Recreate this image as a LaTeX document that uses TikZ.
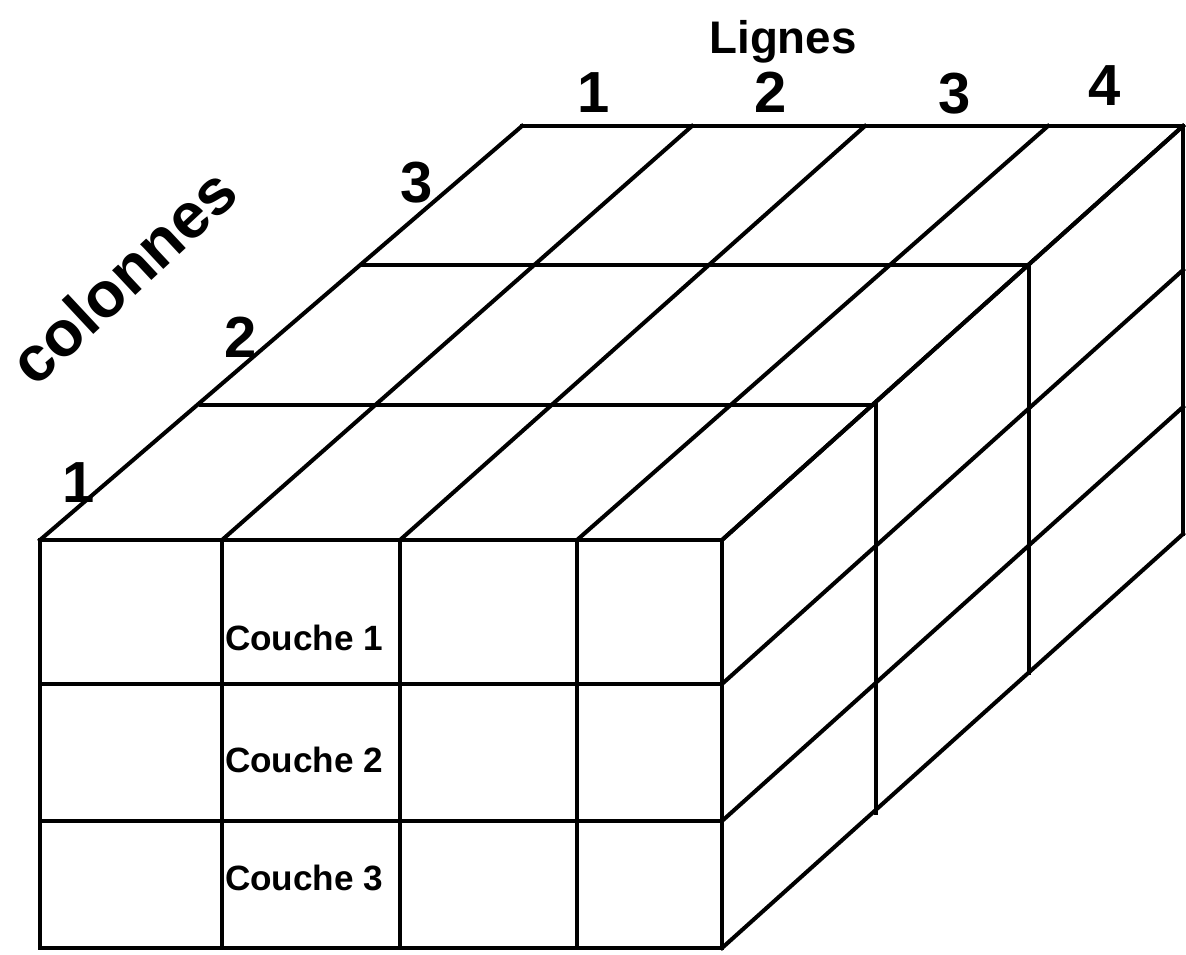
\documentclass[tikz,border=0pt]{standalone}
\usepackage{fontspec}
\setmainfont{Liberation Sans}
\begin{document}
\begin{tikzpicture}[x=0.02cm, y=-0.02cm,
  grid/.style={line width=2.3pt, line cap=rect, line join=miter},
  lbl/.style={inner sep=0pt, outer sep=0pt},
  digit/.style={lbl, anchor=base, font=\bfseries\fontsize{33}{33}\selectfont},
  layer/.style={lbl, anchor=base west, font=\bfseries\fontsize{20}{20}\selectfont}]

\useasboundingbox (0,0) rectangle (1186,954);

% grid point (i,j,k): i along the rows, j in depth (columns), k down the layers
\def\Fx{{40,222,400,577,722}}
\def\Bx{{522,692,865,1048,1183}}
\def\Ty{{540,405,265,126}}
\def\Hy{{0,144,281,408}}
\foreach \i in {0,...,4}{
  \foreach \j in {0,...,3}{
    \foreach \k in {0,...,3}{
      \pgfmathsetmacro\px{\Fx[\i]+(\Bx[\i]-\Fx[\i])*\j/3}
      \pgfmathsetmacro\py{\Ty[\j]+\Hy[\k]}
      \coordinate (p\i\j\k) at (\px,\py);
    }
  }
}

% front face
\foreach \k in {0,...,3} \draw[grid] (p00\k) -- (p40\k);
\foreach \i in {0,...,4} \draw[grid] (p\i00) -- (p\i03);
% top face
\foreach \i in {0,...,4} \draw[grid] (p\i00) -- (p\i30);
\foreach \j in {1,2,3} \draw[grid] (p0\j0) -- (p4\j0);
% right face
\foreach \k in {0,...,3} \draw[grid] (p40\k) -- (p43\k);
\foreach \j in {1,2,3} \draw[grid] (p4\j0) -- (p4\j3);

% axis titles
\node[lbl, anchor=base, font=\bfseries\fontsize{26}{26}\selectfont] (lignes) at (783,53) {Lignes};
\node[lbl, rotate=43, font=\bfseries\fontsize{36.5}{37}\selectfont] (colonnes) at (123,276) {colonnes};

% row numbers
\node[digit] (l1) at (594,112) {1};
\node[digit] (l2) at (771,112) {2};
\node[digit] (l3) at (955,113) {3};
\node[digit] (l4) at (1105,105) {4};

% column numbers
\node[digit] (c1) at (79,502) {1};
\node[digit] (c2) at (241,357) {2};
\node[digit] (c3) at (417,202) {3};

% layer names
\node[layer] (k1) at (225,650) {Couche 1};
\node[layer] (k2) at (225,772) {Couche 2};
\node[layer] (k3) at (225,890) {Couche 3};
\end{tikzpicture}
\end{document}
